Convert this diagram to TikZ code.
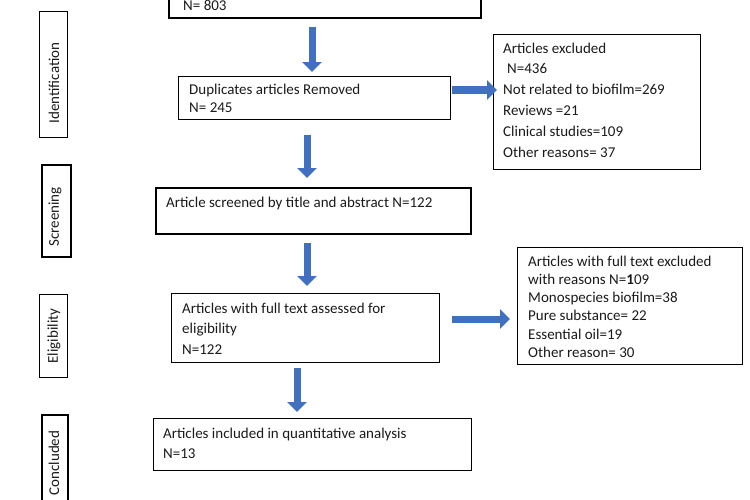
\documentclass[tikz,border=0pt]{standalone}
\usepackage{fontspec}
\setmainfont{Carlito}
\usetikzlibrary{arrows.meta}
\definecolor{arrowblue}{HTML}{4170C0}
\definecolor{txtgray}{HTML}{1A1A1A}
\begin{document}
\begin{tikzpicture}[x=1pt,y=-1pt,
  box/.style={draw=black, line width=1pt, anchor=north west, inner sep=0pt},
  thickbox/.style={box, line width=1.7pt},
  txt/.style={anchor=north west, inner sep=0pt, align=left, text=txtgray, font=\fontsize{15}{#1}\selectfont},
  txt/.default=18,
  side/.style={rotate=90, inner sep=0pt, text=txtgray, font=\fontsize{15}{18}\selectfont},
  barrow/.style={draw=arrowblue, line width=7pt, -{Triangle[width=19pt,length=10pt]}},
]
\useasboundingbox (0,0) rectangle (750,499);

% side labels
\node[box, minimum width=28pt, minimum height=126pt] (sid) at (39,11) {};
\node[side] (sidT) at (54,83) {Identification};
\node[thickbox, minimum width=29pt, minimum height=92pt] (ssc) at (41,164) {};
\node[side] (sscT) at (55,217) {Screening};
\node[box, minimum width=28pt, minimum height=83pt] (sel) at (39,294) {};
\node[side] (selT) at (54,336) {Eligibility};
\node[thickbox, minimum width=26pt, minimum height=100pt] (sco) at (41,414) {};
\node[side] (scoT) at (54,463) {Concluded};

% main boxes
\node[thickbox, minimum width=312pt, minimum height=47pt] (top) at (168,-30) {};
\node[txt] (topT) at (183,-2.4) {\strut N= 803};

\node[box, minimum width=272pt, minimum height=43pt] (dup) at (178,76) {};
\node[txt] (dupT) at (189,81.4) {\strut Duplicates articles Removed\\N= 245};

\node[box, minimum width=207pt, minimum height=135pt] (exc) at (493,34) {};
\node[txt=20.8] (excT) at (503,38.4) {\strut Articles excluded\\\hspace{4pt}N=436\\Not related to biofilm=269\\Reviews =21\\Clinical studies=109\\Other reasons= 37};

\node[thickbox, minimum width=315pt, minimum height=46pt] (scr) at (155,187) {};
\node[txt] (scrT) at (166,194.4) {\strut Article screened by title and abstract N=122};

\node[box, minimum width=268pt, minimum height=69pt] (eli) at (171,293) {};
\node[txt=20.5] (eliT) at (182,298.65) {\strut Articles with full text assessed for\\eligibility\\N=122};

\node[box, minimum width=225pt, minimum height=117pt] (ft) at (517,247) {};
\node[txt=18.2] (ftT) at (528,253.26) {\strut Articles with full text excluded\\with reasons N=\textbf{1}09\\Monospecies biofilm=38\\Pure substance= 22\\Essential oil=19\\Other reason= 30};

\node[box, minimum width=318pt, minimum height=52pt] (con) at (153,418) {};
\node[txt=20] (conT) at (163,424) {\strut Articles included in quantitative analysis\\N=13};

% arrows
\coordinate (a1) at (312,0);
\coordinate (a2) at (307,0);
\coordinate (a4) at (297,0);
\coordinate (r1) at (0,90);
\coordinate (r2) at (0,319);
\draw[barrow, shorten <=8pt, shorten >=4pt] (top.south -| a1) -- (dup.north -| a1);
\draw[barrow, line width=8pt, shorten <=1pt, shorten >=-4pt] (dup.east |- r1) -- (exc.west |- r1);
\draw[barrow, shorten <=15pt, shorten >=9pt] (dup.south -| a2) -- (scr.north -| a2);
\draw[barrow, shorten <=8pt, shorten >=7pt] (scr.south -| a2) -- (eli.north -| a2);
\draw[barrow, shorten <=12pt, shorten >=7pt] (eli.east |- r2) -- (ft.west |- r2);
\draw[barrow, shorten <=5pt, shorten >=6pt] (eli.south -| a4) -- (con.north -| a4);
\end{tikzpicture}
\end{document}
